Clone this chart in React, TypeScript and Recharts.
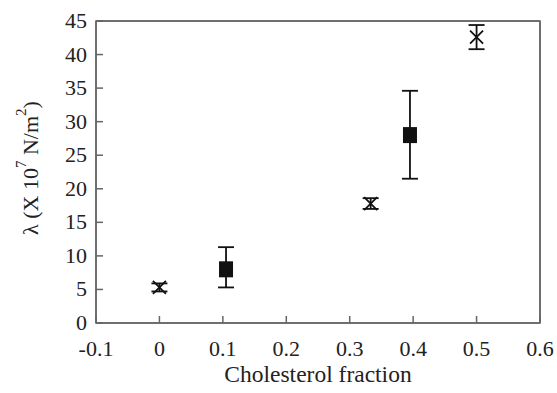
import React from "react";
import { ScatterChart, Scatter, XAxis, YAxis, ErrorBar, ReferenceArea } from "recharts";

// cross markers (x) with small error bars
const crossFraction = [0, 0.333, 0.5];
const crossLambda = [5.3, 17.8, 42.6];
const crossErr = [0.6, 0.8, 1.8];

// filled squares with larger, slightly asymmetric error bars
const squareFraction = [0.105, 0.395];
const squareLambda = [8.0, 28.0];
const squareErrLow = [2.7, 6.5];
const squareErrHigh = [3.3, 6.6];

const xTicks = [-0.1, 0, 0.1, 0.2, 0.3, 0.4, 0.5, 0.6];
const yTicks = [0, 5, 10, 15, 20, 25, 30, 35, 40, 45];

const points = [
  ...squareFraction.map((x, i) => ({
    x,
    y: squareLambda[i],
    err: [squareErrLow[i], squareErrHigh[i]],
    kind: "square",
  })),
  ...crossFraction.map((x, i) => ({
    x,
    y: crossLambda[i],
    err: [crossErr[i], crossErr[i]],
    kind: "cross",
  })),
];

const FONT = "'Liberation Serif', 'Times New Roman', serif";
const FRAME = "#666";
const st = { stroke: FRAME, strokeWidth: 1.5 };

const BL = (p: any) => (
  <text x={p.x} y={p.y + 40} textAnchor="middle" fontFamily={FONT} fontSize={22} fill="#222">
    {p.payload.value}
  </text>
);

const LL = (p: any) => (
  <text x={p.x - 16} y={p.y + 7} textAnchor="end" fontFamily={FONT} fontSize={22} fill="#222">
    {p.payload.value}
  </text>
);

const Marker = (p: any) => {
  const { cx, cy, payload } = p;
  if (payload && payload.kind === "square") {
    return <rect x={cx - 7} y={cy - 8} width={14} height={16} fill="#111" />;
  }
  const s = 6.5;
  return (
    <path
      d={`M${cx - s},${cy - s}L${cx + s},${cy + s}M${cx - s},${cy + s}L${cx + s},${cy - s}`}
      stroke="#111"
      strokeWidth={1.8}
      fill="none"
    />
  );
};

export default function App() {
  return (
    <div style={{ position: "absolute", left: 0, top: 0, width: 557, height: 393, background: "#fff" }}>
      <ScatterChart width={557} height={393} margin={{ top: 20, right: 7, bottom: 0, left: 36 }}>
        <XAxis
          xAxisId="b"
          dataKey="x"
          type="number"
          domain={[-0.1, 0.6]}
          ticks={xTicks}
          interval={0}
          allowDataOverflow
          height={70}
          tickSize={-7}
          tickMargin={0}
          tickLine={st}
          tick={<BL />}
          axisLine={st}
          label={{
            value: "Cholesterol fraction",
            position: "insideBottom",
            offset: 11,
            style: { fontFamily: FONT, fontSize: 23.5, fill: "#222" },
          }}
        />
        <XAxis
          xAxisId="t"
          dataKey="x"
          orientation="top"
          type="number"
          domain={[-0.1, 0.6]}
          ticks={xTicks}
          interval={0}
          allowDataOverflow
          height={1}
          tickSize={-7}
          tickLine={st}
          tick={false}
          axisLine={st}
        />
        <YAxis
          yAxisId="l"
          dataKey="y"
          type="number"
          domain={[0, 45]}
          ticks={yTicks}
          interval={0}
          allowDataOverflow
          width={60}
          tickSize={-7}
          tickMargin={0}
          tickLine={st}
          tick={<LL />}
          axisLine={st}
        />
        <YAxis
          yAxisId="r"
          dataKey="y"
          orientation="right"
          type="number"
          domain={[0, 45]}
          ticks={yTicks}
          interval={0}
          allowDataOverflow
          width={10}
          tickSize={-7}
          tickLine={st}
          tick={false}
          axisLine={st}
        />
        <ReferenceArea
          xAxisId="b"
          yAxisId="l"
          x1={-0.1}
          x2={0.6}
          y1={0}
          y2={45}
          fill="none"
          fillOpacity={0}
          stroke={FRAME}
          strokeWidth={1.5}
          ifOverflow="visible"
        />
        <Scatter xAxisId="b" yAxisId="l" data={points} shape={<Marker />} isAnimationActive={false}>
          <ErrorBar dataKey="err" direction="y" width={8} stroke="#111" strokeWidth={1.8} />
        </Scatter>
        <text
          x={30}
          y={168}
          transform="rotate(-90, 30, 168)"
          textAnchor="middle"
          dominantBaseline="central"
          fontFamily={FONT}
          fontSize={22}
          fill="#222"
        >
          λ (X 10<tspan dy={-9} fontSize={15}>7</tspan><tspan dy={9}> N/m</tspan><tspan dy={-9} fontSize={15}>2</tspan><tspan dy={9}>)</tspan>
        </text>
      </ScatterChart>
    </div>
  );
}
